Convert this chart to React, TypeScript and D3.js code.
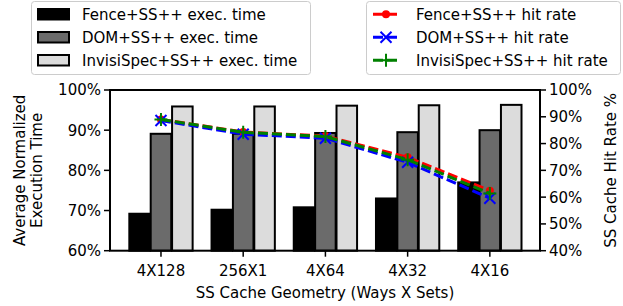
import * as d3 from "d3";

const categories = ["4X128", "256X1", "4X64", "4X32", "4X16"];

// normalized execution time (%)
const fenceExec = [69.2, 70.2, 70.8, 73.0, 77.0];
const domExec = [89.1, 89.1, 89.3, 89.5, 90.0];
const invisiExec = [95.9, 95.9, 96.1, 96.2, 96.3];

// SS cache hit rate (%)
const fenceHit = [89.0, 84.3, 82.8, 74.9, 62.4];
const domHit = [88.6, 83.5, 82.0, 73.0, 59.6];
const invisiHit = [89.0, 84.2, 82.6, 74.0, 61.4];

const leftTicks = [60, 70, 80, 90, 100];
const rightTicks = [40, 50, 60, 70, 80, 90, 100];

const W = 623;
const H = 306;
const margin = { left: 110, right: 83, top: 90, bottom: 55.3 };
const FONT = "DejaVu Sans, sans-serif";

const barSeries = [
  { name: "Fence+SS++ exec. time", values: fenceExec, fill: "#000000", offset: -0.26 },
  { name: "DOM+SS++ exec. time", values: domExec, fill: "#6b6b6b", offset: 0 },
  { name: "InvisiSpec+SS++ exec. time", values: invisiExec, fill: "#dcdcdc", offset: 0.26 },
];

const lineSeries = [
  { name: "Fence+SS++ hit rate", values: fenceHit, color: "#ff0000", marker: "o" },
  { name: "DOM+SS++ hit rate", values: domHit, color: "#0000ff", marker: "x" },
  { name: "InvisiSpec+SS++ hit rate", values: invisiHit, color: "#008000", marker: "+" },
];

function Marker({ type, x, y, color }: { type: string; x: number; y: number; color: string }) {
  if (type === "o") return <circle cx={x} cy={y} r={4} fill={color} />;
  const s = 5.5;
  if (type === "x")
    return (
      <path
        d={`M${x - s},${y - s}L${x + s},${y + s}M${x - s},${y + s}L${x + s},${y - s}`}
        stroke={color}
        strokeWidth={2}
      />
    );
  return (
    <path
      d={`M${x - 6.5},${y}L${x + 6.5},${y}M${x},${y - 6.5}L${x},${y + 6.5}`}
      stroke={color}
      strokeWidth={2}
    />
  );
}

export default function App() {
  const x0 = margin.left;
  const x1 = W - margin.right;
  const y0 = H - margin.bottom;
  const y1 = margin.top;

  const x = d3.scaleLinear().domain([-0.62, 4.61]).range([x0, x1]);
  const yL = d3.scaleLinear().domain([60, 100]).range([y0, y1]);
  const yR = d3.scaleLinear().domain([40, 100]).range([y0, y1]);
  const bw = x(0.25) - x(0);

  const line = (vals: number[]) =>
    d3
      .line<number>()
      .x((_, i) => x(i))
      .y((d) => yR(d))(vals) as string;

  return (
    <svg width={W} height={H} style={{ position: "absolute", left: 0, top: 0 }} fontFamily={FONT}>
      <rect width={W} height={H} fill="#fff" />

      {/* bars */}
      {barSeries.map((s) =>
        s.values.map((v, i) => (
          <rect
            key={s.name + i}
            x={x(i + s.offset) - bw / 2}
            y={yL(v)}
            width={bw}
            height={y0 - yL(v)}
            fill={s.fill}
            stroke="#000"
            strokeWidth={2}
          />
        ))
      )}

      {/* hit rate lines */}
      {lineSeries.map((s) => (
        <g key={s.name}>
          <path d={line(s.values)} fill="none" stroke={s.color} strokeWidth={3} strokeDasharray="10,4" />
          {s.values.map((v, i) => (
            <Marker key={i} type={s.marker} x={x(i)} y={yR(v)} color={s.color} />
          ))}
        </g>
      ))}

      {/* frame */}
      <rect x={x0} y={y1} width={x1 - x0} height={y0 - y1} fill="none" stroke="#000" strokeWidth={2} />

      {/* left axis */}
      {leftTicks.map((t) => (
        <g key={t}>
          <line x1={x0 - 6} x2={x0} y1={yL(t)} y2={yL(t)} stroke="#000" strokeWidth={1.5} />
          <text x={x0 - 9} y={yL(t)} dy="0.36em" textAnchor="end" fontSize={15}>
            {t}%
          </text>
        </g>
      ))}

      {/* right axis */}
      {rightTicks.map((t) => (
        <g key={t}>
          <line x1={x1} x2={x1 + 6} y1={yR(t)} y2={yR(t)} stroke="#000" strokeWidth={1.5} />
          <text x={x1 + 9} y={yR(t)} dy="0.36em" textAnchor="start" fontSize={15}>
            {t}%
          </text>
        </g>
      ))}

      {/* x axis */}
      {categories.map((c, i) => (
        <g key={c}>
          <line x1={x(i)} x2={x(i)} y1={y0} y2={y0 + 6} stroke="#000" strokeWidth={1.5} />
          <text x={x(i)} y={y0 + 20} dy="0.36em" textAnchor="middle" fontSize={15}>
            {c}
          </text>
        </g>
      ))}
      <text x={(x0 + x1) / 2} y={293} dy="0.36em" textAnchor="middle" fontSize={15}>
        SS Cache Geometry (Ways X Sets)
      </text>

      {/* y labels */}
      <text transform={`translate(20,${(y0 + y1) / 2}) rotate(-90)`} dy="0.36em" textAnchor="middle" fontSize={15}>
        Average Normalized
      </text>
      <text transform={`translate(37,${(y0 + y1) / 2}) rotate(-90)`} dy="0.36em" textAnchor="middle" fontSize={15}>
        Execution Time
      </text>
      <text transform={`translate(611,${(y0 + y1) / 2}) rotate(-90)`} dy="0.36em" textAnchor="middle" fontSize={15}>
        SS Cache Hit Rate %
      </text>

      {/* legend: bars */}
      <rect x={31.5} y={1.5} width={279} height={73} rx={3} fill="#fff" fillOpacity={0.8} stroke="#cccccc" strokeWidth={1} />
      {barSeries.map((s, i) => (
        <g key={s.name}>
          <rect x={38} y={9 + i * 23} width={31} height={10.5} fill={s.fill} stroke="#000" strokeWidth={2} />
          <text x={82} y={14.3 + i * 23} dy="0.36em" fontSize={15}>
            {s.name}
          </text>
        </g>
      ))}

      {/* legend: lines */}
      <rect x={366.5} y={1.5} width={254} height={73} rx={3} fill="#fff" fillOpacity={0.8} stroke="#cccccc" strokeWidth={1} />
      {lineSeries.map((s, i) => (
        <g key={s.name}>
          <line x1={373} x2={398} y1={14.3 + i * 23} y2={14.3 + i * 23} stroke={s.color} strokeWidth={3} strokeDasharray="10,4" />
          <Marker type={s.marker} x={386} y={14.3 + i * 23} color={s.color} />
          <text x={416} y={14.3 + i * 23} dy="0.36em" fontSize={15}>
            {s.name}
          </text>
        </g>
      ))}
    </svg>
  );
}
